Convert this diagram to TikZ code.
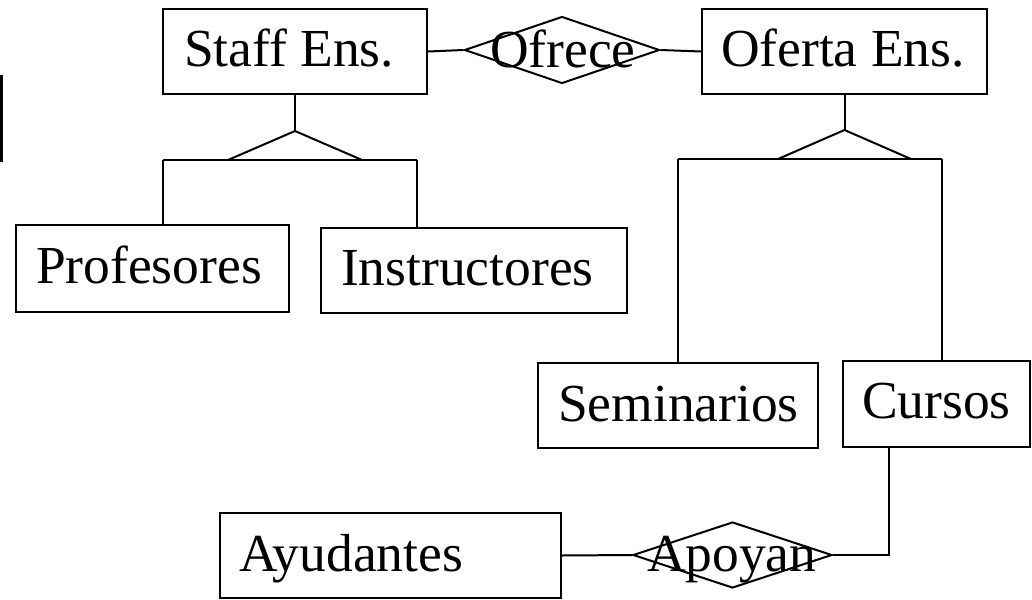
\documentclass[tikz,border=0pt]{standalone}
\usepackage{fontspec}
\setmainfont{Liberation Serif}
\usetikzlibrary{shapes.geometric}
\begin{document}
\begin{tikzpicture}[x=1pt,y=-1pt,line width=2pt,
  box/.style={draw,rectangle,inner sep=0pt},
  rel/.style={draw,diamond,inner sep=0pt},
  lbl/.style={anchor=base west,inner sep=0pt,font=\fontsize{53.5}{60}\selectfont}]
\useasboundingbox (0,0) rectangle (1032,599);
% stray edge of a cut-off box
\coordinate (st1) at (1.25,75);
\coordinate (st2) at (1.25,162);
\draw[line width=2.5pt] (st1) -- (st2);
% entity boxes
\node[box,minimum width=264pt,minimum height=85pt] (staff) at (295,51.5) {};
\node[box,minimum width=273pt,minimum height=87pt] (prof) at (152.5,268.5) {};
\node[box,minimum width=306pt,minimum height=85pt] (instr) at (474,270.5) {};
\node[box,minimum width=285pt,minimum height=85pt] (oferta) at (844.5,51.5) {};
\node[box,minimum width=280pt,minimum height=85pt] (sem) at (678,405.5) {};
\node[box,minimum width=187pt,minimum height=86pt] (cursos) at (936.5,404) {};
\node[box,minimum width=341pt,minimum height=85pt] (ayud) at (390.5,555.5) {};
% relationship diamonds
\node[rel,minimum width=195pt,minimum height=67pt] (ofrece) at (562,50) {};
\node[rel,minimum width=199pt,minimum height=66pt] (apoyan) at (732.5,555) {};
% labels
\node[lbl] (tstaff) at (183,67) {Staff Ens.};
\node[lbl] (tprof) at (35,283) {Profesores};
\node[lbl] (tinstr) at (340,285) {Instructores};
\node[lbl] (tofrece) at (489,68) {Ofrece};
\node[lbl] (toferta) at (720,67) {Oferta Ens.};
\node[lbl] (tsem) at (557,421) {Seminarios};
\node[lbl] (tcursos) at (861,418) {Cursos};
\node[lbl] (tayud) at (238,571) {Ayudantes};
\node[lbl] (tapoyan) at (646,571) {Apoyan};
% relationship connectors
\draw (staff.east) -- (ofrece.west);
\draw (ofrece.east) -- (oferta.west);
\draw (ayud.east) -- (apoyan.west);
\draw ([xshift=-47.5pt]cursos.south) |- (apoyan.east);
% ISA Staff
\coordinate (sa) at (295,131);
\coordinate (sl) at (228,160);
\coordinate (sr) at (362,160);
\coordinate (sb1) at (163,160);
\coordinate (sb2) at (417,160);
\draw (staff.south) -- (sa);
\draw (sl) -- (sa) -- (sr);
\draw (sb1) -- (sb2);
\draw (sb1) -- (sb1 |- prof.north);
\draw (sb2) -- (sb2 |- instr.north);
% ISA Oferta
\coordinate (oa) at (844.5,130);
\coordinate (ol) at (778,159);
\coordinate (or) at (911,159);
\coordinate (ob1) at (678,159);
\coordinate (ob2) at (942,159);
\draw (oferta.south) -- (oa);
\draw (ol) -- (oa) -- (or);
\draw (ob1) -- (ob2);
\draw (ob1) -- (ob1 |- sem.north);
\draw (ob2) -- (ob2 |- cursos.north);
\end{tikzpicture}
\end{document}
